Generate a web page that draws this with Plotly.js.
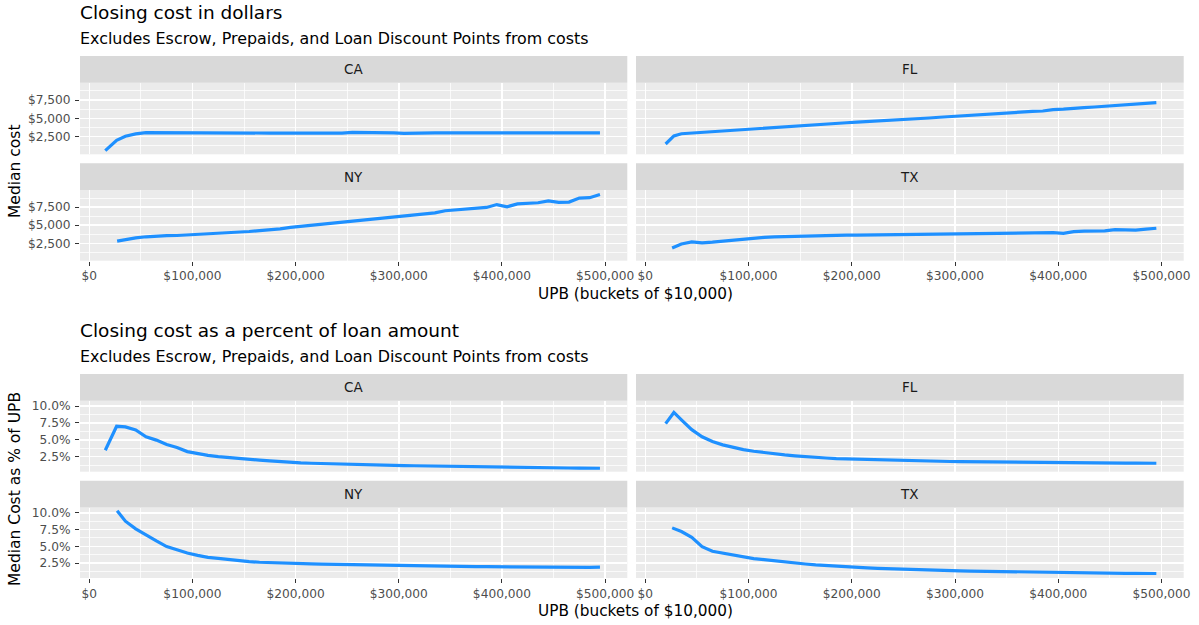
<!DOCTYPE html>
<html>
<head>
<meta charset="utf-8">
<script src="https://cdn.plot.ly/plotly-3.0.1.min.js"></script>
<style>html,body{margin:0;padding:0;background:#fff;}#chart{width:1199px;height:625px;}</style>
</head>
<body>
<div id="chart"></div>
<script>
// ---------- DATA ----------
const states = ["CA", "FL", "NY", "TX"];
// shared UPB buckets after the first (state-specific) points
const buckets = [35000,45000,55000,65000,75000,85000,95000,105000,115000,125000,
  135000,145000,155000,165000,175000,185000,195000,205000,215000,225000,
  235000,245000,255000,265000,275000,285000,295000,305000,315000,325000,
  335000,345000,355000,365000,375000,385000,395000,405000,415000,425000,
  435000,445000,455000,465000,475000,485000,495000];
const caStartX = [15500, 26500];
const flStartX = [19700, 27700];
const nyStartX = [27000];
const txStartX = [26000];

// Median closing cost in dollars
const caCost = [590, 2000,
  2550,2880,3050,3040,3030,3020,2970,2960,2960,2980,
  2990,3010,3010,3000,2990,2990,2990,2990,2990,2990,
  2990,2990,3100,3100,3050,3040,3030,2960,3010,3020,
  3020,3020,3020,3020,3020,3020,3020,3020,3020,3020,
  3020,3020,3020,3020,2960,3000,3010];
const flCost = [1500, 2600,
  2900,3000,3100,3200,3280,3380,3480,3580,3650,3750,
  3850,3950,4030,4120,4200,4300,4400,4480,4550,4640,
  4720,4800,4850,4900,5050,5150,5250,5350,5450,5550,
  5620,5700,5800,5880,5950,6000,6200,6250,6300,6450,
  6550,6650,6750,6850,6950,7050,7150];
const nyCost = [2800,
  3050,3250,3400,3500,3550,3580,3650,3720,3780,3850,
  3920,4020,4130,4250,4350,4500,4700,4850,4950,5100,
  5250,5450,5600,5750,5900,6050,6200,6300,6500,6600,
  6700,7000,7100,7200,7300,7450,7850,7550,7950,8000,
  8100,8350,8150,8200,8750,8800,9250];
const txCost = [1850,
  2400,2700,2550,2650,2800,2950,3100,3230,3320,3390,
  3440,3490,3540,3570,3590,3600,3640,3620,3640,3660,
  3680,3700,3720,3720,3760,3780,3830,3820,3840,3860,
  3880,3900,3920,3950,3960,4000,3980,3880,4120,4180,
  4200,4230,4380,4320,4330,4450,4580];

// Median closing cost as % of UPB
const caPct = [3.45, 7.0,
  6.9,6.45,5.45,4.95,4.3,3.85,3.25,2.92,2.7,2.5,
  2.35,2.24,2.12,1.98,1.88,1.76,1.65,1.58,1.52,1.47,
  1.43,1.39,1.37,1.36,1.3,1.26,1.22,1.18,1.15,1.12,
  1.09,1.06,1.04,1.01,0.98,0.94,0.93,0.91,0.9,0.88,
  0.87,0.85,0.84,0.82,0.8,0.79,0.78];
const flPct = [7.4, 9.05,
  7.95,6.5,5.45,4.75,4.25,3.85,3.55,3.3,3.1,2.9,
  2.75,2.62,2.48,2.38,2.3,2.22,2.17,2.12,2.07,2.03,
  2.0,1.97,1.93,1.9,1.86,1.82,1.78,1.76,1.74,1.72,
  1.7,1.68,1.67,1.65,1.63,1.61,1.6,1.59,1.58,1.57,
  1.56,1.55,1.54,1.53,1.53,1.52,1.52];
const nyPct = [10.3,
  8.75,7.6,6.65,5.8,4.95,4.45,4.0,3.65,3.35,3.2,
  3.0,2.85,2.72,2.62,2.55,2.48,2.42,2.4,2.37,2.33,
  2.3,2.27,2.25,2.23,2.2,2.17,2.14,2.12,2.1,2.08,
  2.06,2.04,2.02,2.0,1.98,1.96,1.94,1.95,1.92,1.9,
  1.88,1.86,1.82,1.8,1.82,1.85,1.88];
const txPct = [7.75,
  7.2,6.35,4.95,4.25,3.95,3.72,3.4,3.17,3.0,2.82,
  2.65,2.5,2.36,2.23,2.12,2.0,1.92,1.85,1.77,1.7,
  1.64,1.58,1.54,1.5,1.45,1.41,1.37,1.33,1.3,1.27,
  1.24,1.21,1.19,1.16,1.13,1.11,1.1,1.08,1.06,1.04,
  1.02,1.0,0.99,0.97,0.96,0.95,0.94];

// tick values and labels
const costTicks = [2500, 5000, 7500];
const costLabels = ["$2,500", "$5,000", "$7,500"];
const pctTicks = [2.5, 5.0, 7.5, 10.0];
const pctLabels = ["2.5%", "5.0%", "7.5%", "10.0%"];
const upbTicks = [0, 100000, 200000, 300000, 400000, 500000];
const upbLabels = ["$0", "$100,000", "$200,000", "$300,000", "$400,000", "$500,000"];

// ---------- LAYOUT HELPERS ----------
const W = 1199, H = 625;
const px = x => x / W;
const py = y => 1 - y / H;
const cols = [[80, 627.3], [636, 1183.7]];
const panelRows = [[[82.7, 154.3], [190, 260.7]], [[400.7, 471.7], [507.5, 578]]];
const stripRows = [[[56, 82.7], [163.3, 190]], [[374, 400.7], [480.7, 507.5]]];

const FONT = "DejaVu Sans";
const LINE = "#1E90FF";
const xs = {
  CA: caStartX.concat(buckets), FL: flStartX.concat(buckets),
  NY: nyStartX.concat(buckets), TX: txStartX.concat(buckets)
};
const ysets = [
  {CA: caCost, FL: flCost, NY: nyCost, TX: txCost},
  {CA: caPct, FL: flPct, NY: nyPct, TX: txPct}
];

const traces = [];
const layout = {
  width: W, height: H,
  margin: {l: 0, r: 0, t: 0, b: 0},
  paper_bgcolor: "#FFFFFF",
  plot_bgcolor: "#EBEBEB",
  showlegend: false,
  font: {family: FONT, color: "#4D4D4D", size: 12.2},
  shapes: [],
  annotations: []
};

let n = 0;
for (let c = 0; c < 2; c++) {
  states.forEach((st, i) => {
    n++;
    const col = i % 2, row = Math.floor(i / 2);
    const xa = "x" + (n === 1 ? "" : n), ya = "y" + (n === 1 ? "" : n);
    const xk = "xaxis" + (n === 1 ? "" : n), yk = "yaxis" + (n === 1 ? "" : n);
    traces.push({
      type: "scatter", mode: "lines",
      x: xs[st], y: ysets[c][st],
      xaxis: xa, yaxis: ya,
      line: {color: LINE, width: 3.2},
      hoverinfo: "skip"
    });
    const pr = panelRows[c][row];
    const bottom = row === 1, left = col === 0;
    layout[xk] = {
      domain: [px(cols[col][0]), px(cols[col][1])],
      anchor: ya,
      range: [-9000, 521500],
      tickmode: "array", tickvals: upbTicks, ticktext: upbLabels,
      showticklabels: bottom,
      ticks: bottom ? "outside" : "",
      ticklen: 4, tickwidth: 1, tickcolor: "#333333",
      tickfont: {family: FONT, size: 12.2, color: "#4D4D4D"},
      showgrid: true, gridcolor: "#FFFFFF", gridwidth: 1.5,
      minor: {tickvals: [50000, 150000, 250000, 350000, 450000], showgrid: true, gridcolor: "#FFFFFF", gridwidth: 0.75, ticks: ""},
      zeroline: false, showline: false, fixedrange: true
    };
    const yrange = c === 0 ? [96, 9863] : [0.27, 10.79];
    layout[yk] = {
      domain: [py(pr[1]), py(pr[0])],
      anchor: xa,
      range: yrange,
      tickmode: "array",
      tickvals: c === 0 ? costTicks : pctTicks,
      ticktext: c === 0 ? costLabels : pctLabels,
      showticklabels: left,
      ticks: left ? "outside" : "",
      ticklen: 4, tickwidth: 1, tickcolor: "#333333",
      ticklabelstandoff: 2,
      tickfont: {family: FONT, size: 12.2, color: "#4D4D4D"},
      showgrid: true, gridcolor: "#FFFFFF", gridwidth: 1.5,
      minor: {tickvals: c === 0 ? [1250, 3750, 6250, 8750] : [1.25, 3.75, 6.25, 8.75],
              showgrid: true, gridcolor: "#FFFFFF", gridwidth: 0.75, ticks: ""},
      zeroline: false, showline: false, fixedrange: true
    };
    const sr = stripRows[c][row];
    layout.shapes.push({
      type: "rect", xref: "paper", yref: "paper", layer: "below",
      x0: px(cols[col][0]), x1: px(cols[col][1]), y0: py(sr[1]), y1: py(sr[0]),
      fillcolor: "#D9D9D9", line: {width: 0}
    });
    layout.annotations.push({
      xref: "paper", yref: "paper", showarrow: false,
      x: px((cols[col][0] + cols[col][1]) / 2), y: py((sr[0] + sr[1]) / 2),
      xanchor: "center", yanchor: "middle",
      text: st, font: {family: FONT, size: 13.5, color: "#1A1A1A"}
    });
  });
}

const titles = ["Closing cost in dollars", "Closing cost as a percent of loan amount"];
const subtitle = "Excludes Escrow, Prepaids, and Loan Discount Points from costs";
const yTitles = ["Median cost", "Median Cost as % of UPB"];
const xTitle = "UPB (buckets of $10,000)";
const offs = [0, 318];
const yTitleCenters = [172, 489];
for (let c = 0; c < 2; c++) {
  layout.annotations.push({
    xref: "paper", yref: "paper", showarrow: false,
    x: px(78), y: py(12.5 + offs[c]), xanchor: "left", yanchor: "middle",
    text: titles[c], font: {family: FONT, size: 18.5, color: "#000000"}
  });
  layout.annotations.push({
    xref: "paper", yref: "paper", showarrow: false,
    x: px(78), y: py(38.7 + offs[c]), xanchor: "left", yanchor: "middle",
    text: subtitle, font: {family: FONT, size: 15.9, color: "#000000"}
  });
  layout.annotations.push({
    xref: "paper", yref: "paper", showarrow: false,
    x: px(635), y: py(294 + offs[c] - (c === 1 ? 1 : 0)), xanchor: "center", yanchor: "middle",
    text: xTitle, font: {family: FONT, size: 15.3, color: "#000000"}
  });
  layout.annotations.push({
    xref: "paper", yref: "paper", showarrow: false, textangle: -90,
    x: px(15), y: py(yTitleCenters[c]), xanchor: "center", yanchor: "middle",
    text: yTitles[c], font: {family: FONT, size: 15.5, color: "#000000"}
  });
}

Plotly.newPlot("chart", traces, layout, {displayModeBar: false, staticPlot: true});
</script>
</body>
</html>
